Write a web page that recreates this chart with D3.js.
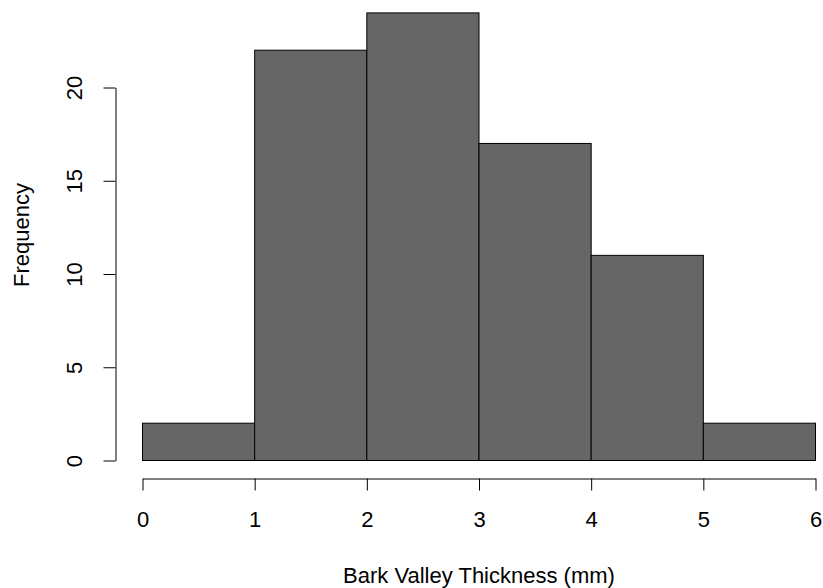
<!DOCTYPE html>
<html><head><meta charset="utf-8">
<script src="https://cdn.jsdelivr.net/npm/d3@7"></script>
<style>body{margin:0;background:#fff}svg{display:block}text{font-family:"Liberation Sans",Arial,sans-serif;fill:#000}</style>
</head><body>
<svg id="c" width="823" height="588"></svg>
<script>
const binStarts = [0, 1, 2, 3, 4, 5];
const binEnds = [1, 2, 3, 4, 5, 6];
const counts = [2, 22, 24, 17, 11, 2];
const xTicks = [0, 1, 2, 3, 4, 5, 6];
const yTicks = [0, 5, 10, 15, 20];
const xTitle = "Bark Valley Thickness (mm)";
const yTitle = "Frequency";

const svg = d3.select("#c");
const x = d3.scaleLinear().domain([0, 6]).range([142.5, 815.5]);
const y = d3.scaleLinear().domain([0, 20]).range([460.5, 87.5]);

svg.append("g").selectAll("rect").data(counts).join("rect")
  .attr("x", (d, i) => x(binStarts[i]))
  .attr("y", d => y(d))
  .attr("width", (d, i) => x(binEnds[i]) - x(binStarts[i]))
  .attr("height", d => y(0) - y(d))
  .attr("fill", "#666666").attr("stroke", "#000").attr("stroke-width", 1);

const fs = "22px";
const ff = '"Liberation Sans",Arial,sans-serif';
const xa = svg.append("g").attr("transform", "translate(0,478.5)")
  .call(d3.axisBottom(x).tickValues(xTicks).tickFormat(d3.format("d")).tickSize(12).tickPadding(21).tickSizeOuter(0));
xa.select(".domain").attr("stroke", "#000");
xa.selectAll("line").attr("stroke", "#000");
xa.selectAll("text").style("font-size", fs).style("font-family", ff).attr("fill", "#000");

const ya = svg.append("g").attr("transform", "translate(115.5,0)")
  .call(d3.axisLeft(y).tickValues(yTicks).tickFormat(d3.format("d")).tickSize(12).tickSizeOuter(0));
ya.select(".domain").attr("stroke", "#000");
ya.selectAll("line").attr("stroke", "#000");
ya.selectAll("text")
  .style("font-size", fs).style("font-family", ff).attr("fill", "#000")
  .attr("x", null).attr("dy", null)
  .attr("text-anchor", "middle")
  .attr("transform", "translate(-33.5,0) rotate(-90)");

svg.append("text").attr("x", 479).attr("y", 583).attr("text-anchor", "middle")
  .style("font-size", fs).text(xTitle);
svg.append("text").attr("transform", "translate(29,235) rotate(-90)").attr("text-anchor", "middle")
  .style("font-size", fs).text(yTitle);
</script>
</body></html>
